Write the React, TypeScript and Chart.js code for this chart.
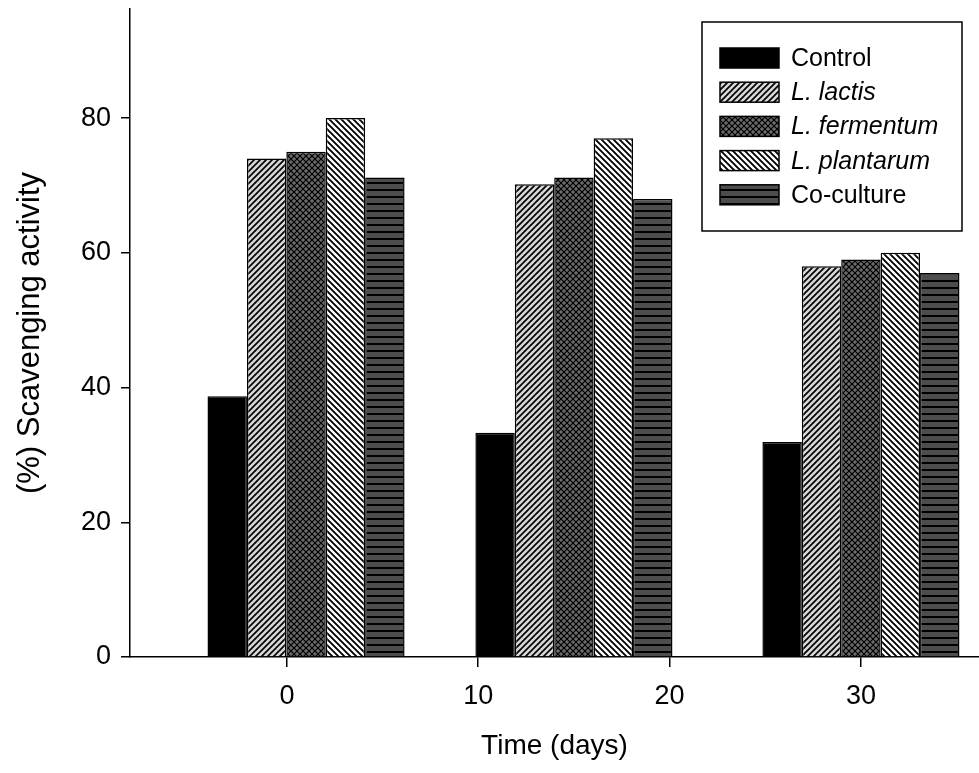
import { useEffect, useRef } from 'react';
import { Chart, registerables } from 'chart.js';

Chart.register(...registerables);

// ---- data ----
const days = [1, 15, 30];
const seriesNames = ['Control', 'L. lactis', 'L. fermentum', 'L. plantarum', 'Co-culture'];
const control = [38.7, 33.3, 31.9];
const lactis = [74, 70.2, 58];
const fermentum = [75, 71.2, 59];
const plantarum = [80, 77, 60];
const coculture = [71.2, 68, 57];
const xTicks = [0, 10, 20, 30];
const yTicks = [0, 20, 40, 60, 80];

const FONT = "'Liberation Sans', Arial, sans-serif";

function makePattern(kind: string): CanvasPattern | string {
  if (kind === 'solid') return '#000000';
  const c = document.createElement('canvas');
  const s = kind === 'h' ? 7 : 6;
  c.width = s;
  c.height = s;
  const g = c.getContext('2d')!;
  const bg: Record<string, string> = { fwd: '#d8d8d8', back: '#ffffff', cross: '#6a6a6a', h: '#4d4d4d' };
  g.fillStyle = bg[kind];
  g.fillRect(0, 0, s, s);
  g.strokeStyle = '#000000';
  const fwd = () => {
    g.beginPath();
    g.moveTo(0, s); g.lineTo(s, 0);
    g.moveTo(-1, 1); g.lineTo(1, -1);
    g.moveTo(s - 1, s + 1); g.lineTo(s + 1, s - 1);
    g.stroke();
  };
  const back = () => {
    g.beginPath();
    g.moveTo(0, 0); g.lineTo(s, s);
    g.moveTo(s - 1, -1); g.lineTo(s + 1, 1);
    g.moveTo(-1, s - 1); g.lineTo(1, s + 1);
    g.stroke();
  };
  if (kind === 'fwd') { g.lineWidth = 1.7; fwd(); }
  if (kind === 'back') { g.lineWidth = 1.9; back(); }
  if (kind === 'cross') { g.lineWidth = 1.2; fwd(); back(); }
  if (kind === 'h') {
    g.fillStyle = '#000000';
    g.fillRect(0, 0, s, 2);
  }
  return g.createPattern(c, 'repeat')!;
}

const legendPlugin = {
  id: 'boxLegend',
  afterDraw(chart: any) {
    const ctx = chart.ctx as CanvasRenderingContext2D;
    const bx = 702, by = 22, bw = 260, bh = 209;
    ctx.save();
    ctx.fillStyle = '#ffffff';
    ctx.fillRect(bx, by, bw, bh);
    ctx.strokeStyle = '#000000';
    ctx.lineWidth = 1.5;
    ctx.strokeRect(bx, by, bw, bh);
    chart.data.datasets.forEach((ds: any, i: number) => {
      const cy = 58 + i * 34.2;
      ctx.fillStyle = ds.backgroundColor;
      ctx.fillRect(720, cy - 10, 59, 20);
      ctx.lineWidth = 1.5;
      ctx.strokeStyle = '#000000';
      ctx.strokeRect(720, cy - 10, 59, 20);
      ctx.fillStyle = '#000000';
      ctx.textBaseline = 'middle';
      ctx.textAlign = 'left';
      const italic = i >= 1 && i <= 3;
      ctx.font = `${italic ? 'italic ' : ''}25px ${FONT}`;
      ctx.fillText(ds.label, 791, cy + 1);
    });
    ctx.restore();
  },
};

export default function App() {
  const ref = useRef<HTMLCanvasElement | null>(null);
  useEffect(() => {
    document.body.style.margin = '0';
    const kinds = ['solid', 'fwd', 'cross', 'back', 'h'];
    const values = [control, lactis, fermentum, plantarum, coculture];
    const chart = new Chart(ref.current!, {
      type: 'bar',
      data: {
        datasets: values.map((vals, i) => ({
          label: seriesNames[i],
          data: days.map((d, j) => ({ x: d, y: vals[j] })),
          backgroundColor: makePattern(kinds[i]) as any,
          borderColor: '#000000',
          borderWidth: 1.5,
          categoryPercentage: 1.03,
          barPercentage: 1,
        })),
      },
      options: {
        animation: false,
        responsive: false,
        maintainAspectRatio: false,
        layout: { padding: { top: 9, right: 0, left: 0, bottom: 0 } },
        plugins: { legend: { display: false }, tooltip: { enabled: false } },
        scales: {
          x: {
            type: 'linear',
            min: -8.2,
            max: 36.17,
            offset: false,
            afterBuildTicks: (s: any) => { s.ticks = xTicks.map((v) => ({ value: v })); },
            afterFit: (s: any) => { s.height = 116; s.paddingLeft = 0; s.paddingRight = 0; },
            ticks: { color: '#000', font: { family: FONT, size: 27 }, padding: 13, maxRotation: 0, autoSkip: false },
            grid: { display: true, offset: false, drawOnChartArea: false, drawTicks: true, tickLength: 10, color: '#000', lineWidth: 1.5 },
            border: { display: true, color: '#000', width: 1.5 },
            title: { display: true, text: 'Time (days)', color: '#000', font: { family: FONT, size: 28 }, padding: { top: 0, bottom: 10 } },
          },
          y: {
            type: 'linear',
            min: 0,
            max: 96.2,
            afterBuildTicks: (s: any) => { s.ticks = yTicks.map((v) => ({ value: v })); },
            afterFit: (s: any) => { s.width = 130; s.paddingTop = 0; s.paddingBottom = 0; },
            ticks: { color: '#000', font: { family: FONT, size: 27 }, padding: 10 },
            grid: { display: true, offset: false, drawOnChartArea: false, drawTicks: true, tickLength: 9, color: '#000', lineWidth: 1.5 },
            border: { display: true, color: '#000', width: 1.5 },
            title: { display: true, text: '(%) Scavenging activity', color: '#000', font: { family: FONT, size: 31 }, padding: { top: 12, bottom: 0 } },
          },
        },
      },
      plugins: [legendPlugin],
    });
    return () => chart.destroy();
  }, []);
  return (
    <div style={{ width: 979, height: 773 }}>
      <canvas ref={ref} width={979} height={773} />
    </div>
  );
}
